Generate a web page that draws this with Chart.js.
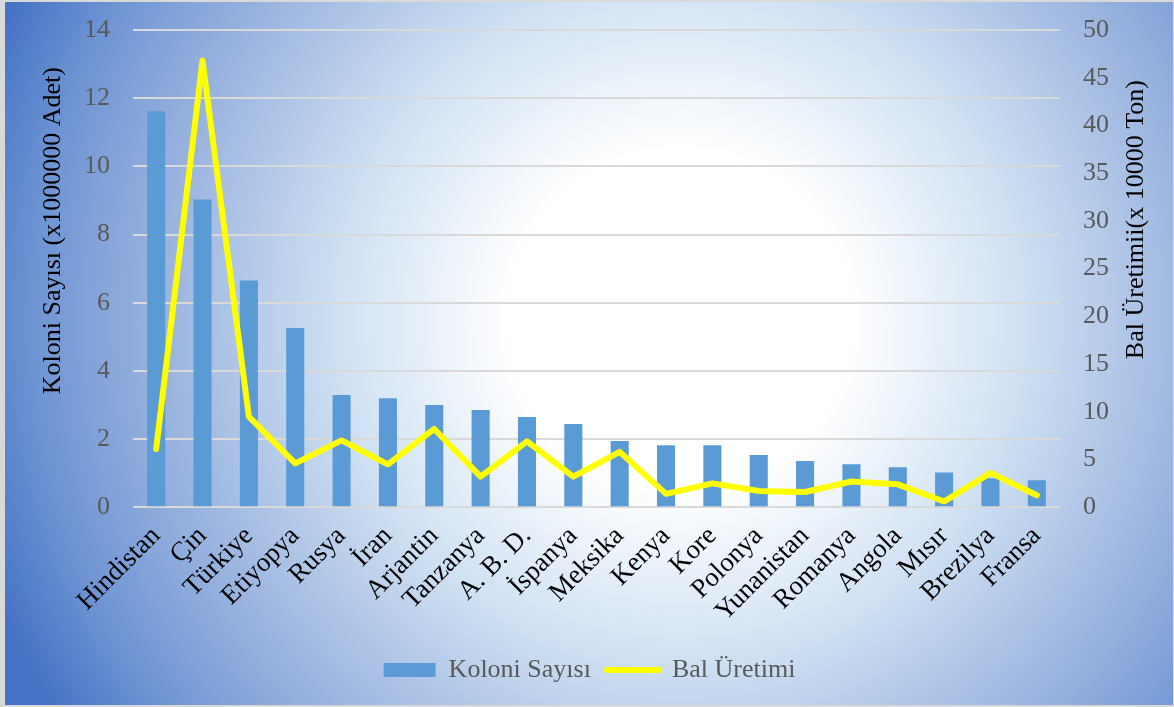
<!DOCTYPE html>
<html>
<head>
<meta charset="utf-8">
<script src="https://cdn.jsdelivr.net/npm/chart.js@4/dist/chart.umd.min.js"></script>
<style>
  html, body { margin: 0; padding: 0; width: 1174px; height: 707px; overflow: hidden; }
  #wrap { position: relative; width: 1174px; height: 707px;
    background: radial-gradient(circle at 680px 320px, #ffffff 0px, #ffffff 170px, rgb(208,225,243) 340px, rgb(160,184,225) 500px, rgb(113,150,212) 640px, #4472c4 740px); }
  #frame { position: absolute; left: 0; top: 0; width: 1174px; height: 707px; box-sizing: border-box; border: 2px solid #d9d9d9; border-left-width: 5px; border-right-width: 1px; pointer-events: none; }
  canvas { display: block; }
</style>
</head>
<body>
<div id="wrap">
  <canvas id="c" width="1174" height="707"></canvas>
  <div id="frame"></div>
</div>
<script>
const categories = ["Hindistan", "Çin", "Türkiye", "Etiyopya", "Rusya", "İran", "Arjantin", "Tanzanya", "A. B. D.", "İspanya", "Meksika", "Kenya", "Kore", "Polonya", "Yunanistan", "Romanya", "Angola", "Mısır", "Brezilya", "Fransa"];
const koloniSayisi = [11.62, 9.03, 6.65, 5.26, 3.29, 3.20, 3.00, 2.85, 2.65, 2.44, 1.94, 1.82, 1.82, 1.53, 1.36, 1.26, 1.17, 1.02, 0.85, 0.79];
const balUretimi = [6.1, 46.8, 9.5, 4.6, 7.0, 4.5, 8.2, 3.2, 6.9, 3.2, 5.8, 1.4, 2.5, 1.7, 1.6, 2.7, 2.4, 0.6, 3.6, 1.25];
const leftTicks = { min: 0, max: 14, step: 2 };
const rightTicks = { min: 0, max: 50, step: 5 };
const leftTitle = 'Koloni Sayısı (x1000000 Adet)';
const rightTitle = 'Bal Üretimii(x 10000 Ton)';

const FONT = "'Liberation Serif', 'Times New Roman', serif";

const axisTitles = {
  id: 'axisTitles',
  afterDraw(chart) {
    const { ctx, chartArea } = chart;
    const midY = (chartArea.top + chartArea.bottom) / 2;
    ctx.save();
    ctx.font = '26px ' + FONT;
    ctx.fillStyle = '#000000';
    ctx.textAlign = 'center';
    ctx.textBaseline = 'middle';
    ctx.save();
    ctx.translate(chartArea.left - 80, midY - 38);
    ctx.rotate(-Math.PI / 2);
    ctx.fillText(leftTitle, 0, 0);
    ctx.restore();
    ctx.save();
    ctx.translate(chartArea.right + 76, midY - 49);
    ctx.rotate(-Math.PI / 2);
    ctx.fillText(rightTitle, 0, 0);
    ctx.restore();
    ctx.restore();
  }
};

new Chart(document.getElementById('c'), {
  data: {
    labels: categories,
    datasets: [
      {
        type: 'bar',
        label: 'Koloni Sayısı',
        data: koloniSayisi,
        backgroundColor: '#5b9bd5',
        borderWidth: 0,
        yAxisID: 'y',
        categoryPercentage: 1,
        barPercentage: 0.39,
        order: 2
      },
      {
        type: 'line',
        label: 'Bal Üretimi',
        data: balUretimi,
        borderColor: '#ffff00',
        backgroundColor: '#ffff00',
        borderWidth: 6,
        borderCapStyle: 'round',
        borderJoinStyle: 'round',
        pointRadius: 0,
        pointHoverRadius: 0,
        tension: 0,
        yAxisID: 'y1',
        order: 1
      }
    ]
  },
  plugins: [axisTitles],
  options: {
    responsive: false,
    animation: false,
    layout: { padding: { left: 10, right: 5, top: 30, bottom: 14 } },
    plugins: {
      tooltip: { enabled: false },
      legend: {
        position: 'bottom',
        labels: {
          font: { family: FONT, size: 26 },
          color: '#595959',
          usePointStyle: true,
          pointStyleWidth: 52,
          boxHeight: 14,
          padding: 16,
          sort: (a, b) => a.datasetIndex - b.datasetIndex,
          generateLabels: (chart) => {
            const items = Chart.defaults.plugins.legend.labels.generateLabels(chart);
            items.forEach(it => {
              if (it.datasetIndex === 0) {
                it.pointStyle = 'rect';
                it.lineWidth = 0;
                it.fillStyle = '#5b9bd5';
                it.strokeStyle = '#5b9bd5';
              } else {
                it.pointStyle = 'line';
                it.lineWidth = 6;
                it.lineCap = 'round';
                it.strokeStyle = '#ffff00';
              }
            });
            return items;
          }
        }
      }
    },
    scales: {
      x: {
        grid: { display: false, drawTicks: false },
        border: { display: false },
        ticks: {
          font: { family: FONT, size: 27 },
          color: '#000000',
          minRotation: 45,
          maxRotation: 45,
          autoSkip: false,
          padding: 13
        }
      },
      y: {
        position: 'left',
        min: leftTicks.min,
        max: leftTicks.max,
        afterFit: (s) => { s.width = 123; s.paddingTop = 0; s.paddingBottom = 0; },
        grid: { color: '#d9d9d9', lineWidth: 2, drawTicks: false },
        border: { display: false },
        ticks: {
          stepSize: leftTicks.step,
          font: { family: FONT, size: 26 },
          color: '#595959',
          padding: 23
        }
      },
      y1: {
        position: 'right',
        min: rightTicks.min,
        max: rightTicks.max,
        afterFit: (s) => { s.width = 109; s.paddingTop = 0; s.paddingBottom = 0; },
        grid: { display: false, drawTicks: false },
        border: { display: false },
        ticks: {
          stepSize: rightTicks.step,
          font: { family: FONT, size: 26 },
          color: '#595959',
          padding: 23
        }
      }
    }
  }
});
</script>
</body>
</html>
